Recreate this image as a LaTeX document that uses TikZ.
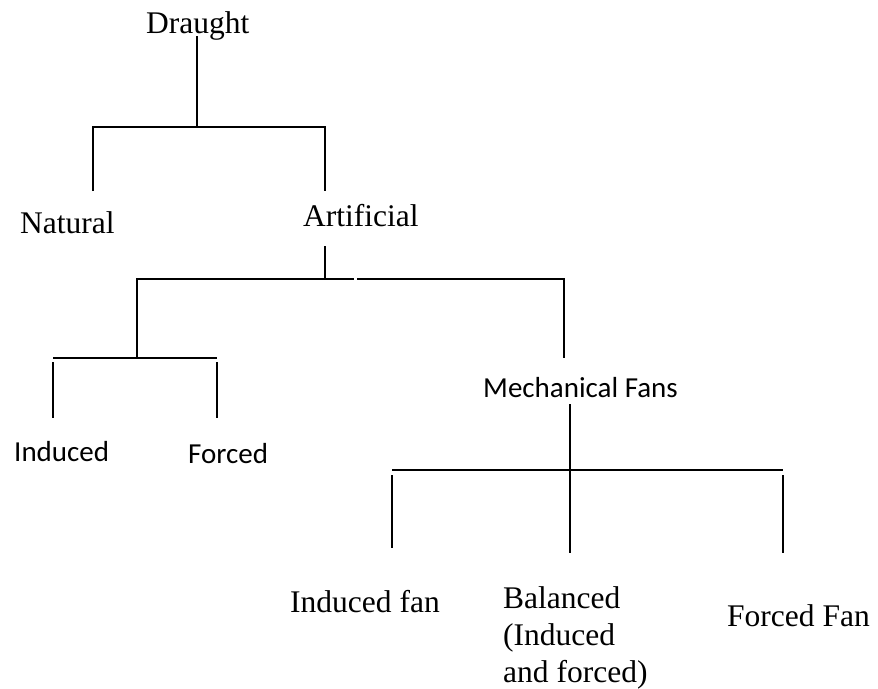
\documentclass[tikz,border=0pt]{standalone}
\usepackage{fontspec}
\newfontfamily\tnrfont{Liberation Serif}
\newfontfamily\calfont{Carlito}
\begin{document}
\begin{tikzpicture}[x=1pt,y=-1pt,
  serif/.style={font=\tnrfont\fontsize{31.5}{37}\selectfont, inner sep=0pt, anchor=base west},
  sans/.style={font=\calfont\fontsize{29}{35}\selectfont, inner sep=0pt, anchor=base west},
  conn/.style={line width=2pt}]
\useasboundingbox (0,0) rectangle (878,688);
% text nodes
\node[serif] (draught) at (146,33) {Draught};
\node[serif] (natural) at (20,233) {Natural};
\node[serif] (artificial) at (303,226) {Artificial};
\node[sans] (induced) at (14,461) {Induced};
\node[sans] (forced) at (188,463) {Forced};
\node[sans] (mech) at (483,397) {Mechanical Fans};
\node[serif] (inducedfan) at (290,612) {Induced fan};
\node[serif, anchor=north west, align=left] (balanced) at (503,586.5) {Balanced\\(Induced\\and forced)};
\node[serif] (forcedfan) at (727,626) {Forced Fan};
% junction / end coordinates
\coordinate (d0) at (197,36);
\coordinate (d1) at (197,127);
\coordinate (nL) at (93,127);
\coordinate (nR) at (325,127);
\coordinate (nLe) at (93,191);
\coordinate (nRe) at (325,191);
\coordinate (a0) at (325,246);
\coordinate (a1) at (325,279);
\coordinate (aL) at (137,279);
\coordinate (aM1) at (354,279);
\coordinate (aM2) at (357,279);
\coordinate (aR) at (564,279);
\coordinate (aRe) at (564,358);
\coordinate (b1) at (137,358);
\coordinate (bL) at (53,358);
\coordinate (bR) at (217,358);
\coordinate (bL0) at (53,362);
\coordinate (bL1) at (53,418);
\coordinate (bR0) at (217,362);
\coordinate (bR1) at (217,418);
\coordinate (m0) at (570,404);
\coordinate (m1) at (570,553);
\coordinate (mL) at (392,470);
\coordinate (mR) at (783,470);
\coordinate (mL0) at (392,475);
\coordinate (mL1) at (392,548);
\coordinate (mR0) at (783,475);
\coordinate (mR1) at (783,553);
% connectors
\draw[conn] (d0) -- (d1);
\draw[conn] (nLe) -- (nL) -- (nR) -- (nRe);
\draw[conn] (a0) -- (a1);
\draw[conn] (b1) -- (aL) -- (aM1);
\draw[conn] (aM2) -- (aR) -- (aRe);
\draw[conn] (bL) -- (bR);
\draw[conn] (bL0) -- (bL1);
\draw[conn] (bR0) -- (bR1);
\draw[conn] (m0) -- (m1);
\draw[conn] (mL) -- (mR);
\draw[conn] (mL0) -- (mL1);
\draw[conn] (mR0) -- (mR1);
\end{tikzpicture}
\end{document}
